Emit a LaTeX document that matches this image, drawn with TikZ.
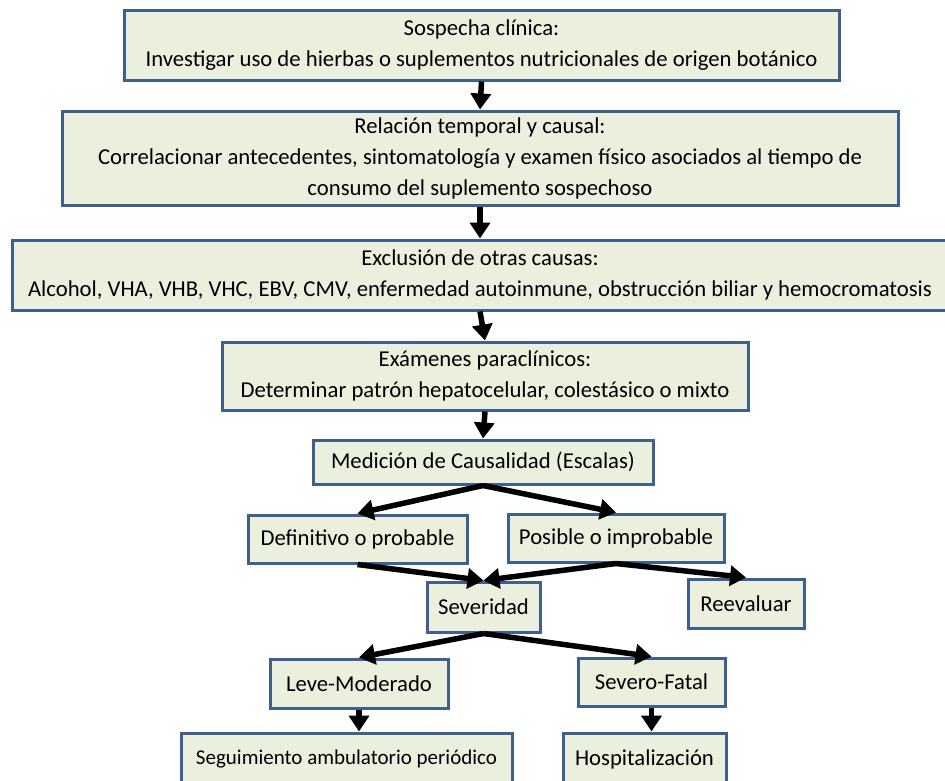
\documentclass[tikz,border=0pt]{standalone}
\usepackage{fontspec}
\setmainfont{Carlito}
\usetikzlibrary{arrows.meta}
\definecolor{cajaborde}{HTML}{3F5F8E}
\definecolor{cajafondo}{HTML}{EBF0DE}
\begin{document}
\begin{tikzpicture}[x=1pt,y=-1pt]
        \tikzstyle{every node}+=[inner sep=0pt, font=\fontsize{22.7}{31}\selectfont]
        \tikzstyle{caja}=[draw=cajaborde, fill=cajafondo, line width=3pt, align=center]
        \tikzstyle{flecha}=[black, line width=5.5pt, -{Triangle[width=20pt,length=16pt]}]
        \useasboundingbox (0,0) rectangle (945,780);
        \node [caja, minimum width=715pt, minimum height=70pt] (sospecha) at (481.5,45) {Sospecha clínica:\\Investigar uso de hierbas o suplementos nutricionales de origen botánico};
        \node [caja, minimum width=836pt, minimum height=94pt] (relacion) at (480,158) {Relación temporal y causal:\\Correlacionar antecedentes, sintomatología y examen físico asociados al tiempo de\\consumo del suplemento sospechoso};
        \node [caja, minimum width=936pt, minimum height=70pt] (exclusion) at (480,275) {Exclusión de otras causas:\\Alcohol, VHA, VHB, VHC, EBV, CMV, enfermedad autoinmune, obstrucción biliar y hemocromatosis};
        \node [caja, minimum width=526pt, minimum height=68pt] (examenes) at (485,376) {Exámenes paraclínicos:\\Determinar patrón hepatocelular, colestásico o mixto};
        \node [caja, minimum width=340pt, minimum height=44pt] (medicion) at (483,462) {Medición de Causalidad (Escalas)};
        \node [caja, minimum width=219pt, minimum height=48pt] (definitivo) at (357.5,539) {Definitivo o probable};
        \node [caja, minimum width=216pt, minimum height=48pt] (posible) at (616,538) {Posible o improbable};
        \node [caja, minimum width=113pt, minimum height=50pt] (severidad) at (483.5,607) {Severidad};
        \node [caja, minimum width=116pt, minimum height=49pt] (reevaluar) at (746,603.5) {Reevaluar};
        \node [caja, minimum width=178pt, minimum height=49pt] (leve) at (359,683.5) {Leve-Moderado};
        \node [caja, minimum width=147pt, minimum height=48pt] (severo) at (651.5,682) {Severo-Fatal};
        \node [caja, minimum width=331pt, minimum height=52pt, font=\fontsize{21}{31}\selectfont] (seguimiento) at (346.5,759) {Seguimiento ambulatorio periódico};
        \node [caja, minimum width=163pt, minimum height=52pt] (hospital) at (644.5,759) {Hospitalización};
        \draw [flecha] (sospecha.south) -- (relacion.north);
        \draw [flecha] (relacion.south) -- (exclusion.north);
        \draw [flecha] (exclusion.south) -- (examenes.north);
        \draw [flecha] (examenes.south) -- (medicion.north);
        \draw [flecha] (medicion.south) -- (definitivo.north);
        \draw [flecha] (medicion.south) -- (posible.north);
        \draw [flecha] (definitivo.south) -- (severidad.north);
        \draw [flecha] (posible.south) -- (severidad.north);
        \draw [flecha] (posible.south) -- (reevaluar.north);
        \draw [flecha] (severidad.south) -- (leve.north);
        \draw [flecha] (severidad.south) -- (severo.north);
        \draw [flecha] (leve.south) -- (leve.south |- seguimiento.north);
        \draw [flecha] (severo.south) -- (severo.south |- hospital.north);
\end{tikzpicture}
\end{document}
